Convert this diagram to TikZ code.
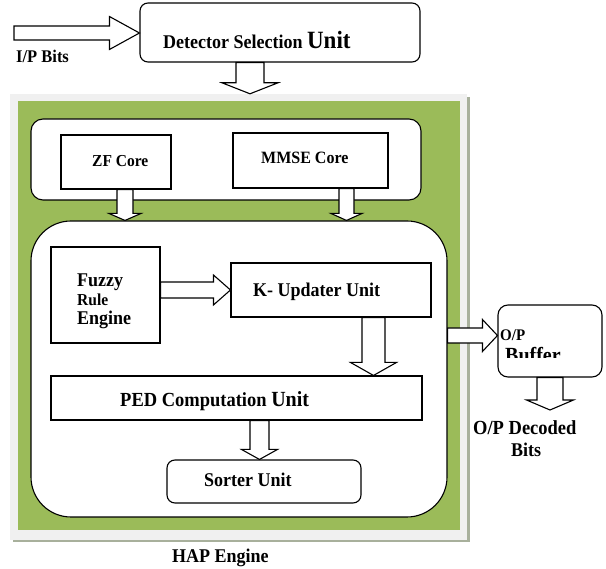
\documentclass[tikz,border=0pt]{standalone}
\usepackage{fontspec}
\setmainfont{Liberation Serif}
\usetikzlibrary{calc}
\definecolor{hapgreen}{HTML}{9BBB59}
\definecolor{framegray}{HTML}{F0F0F0}
\definecolor{shadowgray}{HTML}{A8B09C}
\newcommand\fsz[1]{\fontsize{#1}{#1}\selectfont}
\tikzset{
  box/.style={draw=black, line width=1.1pt, fill=white, inner sep=0pt},
  rbox/.style={box, rounded corners=#1},
  barrow/.style={draw=black, line width=1.1pt, fill=white, line join=miter},
  lbl/.style={anchor=base west, inner sep=0pt, font=\bfseries, yscale=1.08}
}
% vertical block arrow: from, to, xshift, shaft half, head half, head length
\newcommand\varr[6]{\draw[barrow] let \p1=([xshift=#3]#1), \p2=(#2) in
  (\x1-#4,\y1) -- (\x1-#4,\y2+#6) -- (\x1-#5,\y2+#6) -- (\x1,\y2) --
  (\x1+#5,\y2+#6) -- (\x1+#4,\y2+#6) -- (\x1+#4,\y1) -- cycle;}
% horizontal block arrow: from, to, yshift, shaft half, head half, head length
\newcommand\harr[6]{\draw[barrow] let \p1=([yshift=#3]#1), \p2=(#2) in
  (\x1,\y1-#4) -- (\x2-#6,\y1-#4) -- (\x2-#6,\y1-#5) -- (\x2,\y1) --
  (\x2-#6,\y1+#5) -- (\x2-#6,\y1+#4) -- (\x1,\y1+#4) -- cycle;}
\begin{document}
\begin{tikzpicture}[x=1pt,y=-1pt]
\useasboundingbox[fill=white] (0,0) rectangle (606,569);
% HAP frame
\fill[shadowgray] (13,97) rectangle (470,542);
\node[fill=framegray, inner sep=0pt, minimum width=457pt, minimum height=446pt] (frame) at (238.5,317) {};
\node[fill=hapgreen, inner sep=0pt, minimum width=442pt, minimum height=429pt] (green) at (239,315.5) {};
% boxes
\node[rbox=8pt, minimum width=280pt, minimum height=59pt] (dsu) at (280,32.5) {};
\node[rbox=12pt, minimum width=390pt, minimum height=81pt] (cores) at (226,159.5) {};
\node[box, minimum width=110pt, minimum height=54pt] (zf) at (116,162) {};
\node[box, minimum width=155pt, minimum height=55pt] (mmse) at (310.5,160.5) {};
\node[rbox=40pt, minimum width=416pt, minimum height=296pt] (big) at (239,369) {};
\node[box, minimum width=109pt, minimum height=96pt] (fuzzy) at (105.5,295) {};
\node[box, minimum width=200pt, minimum height=54pt] (kup) at (331,290) {};
\node[box, minimum width=371pt, minimum height=44pt] (ped) at (236.5,398) {};
\node[rbox=8pt, minimum width=194pt, minimum height=43pt] (sorter) at (264,481.5) {};
\node[rbox=10pt, minimum width=104pt, minimum height=72pt] (buf) at (550,341) {};
\coordinate (inp) at (14,33);
\coordinate (outp) at (550,410);
% arrows
\harr{inp}{dsu.west}{0pt}{7pt}{16.5pt}{30pt}
\varr{dsu.south}{frame.north}{-30pt}{14pt}{28pt}{11pt}
\varr{zf.south}{big.north}{9pt}{8pt}{16pt}{7pt}
\varr{mmse.south}{big.north}{36pt}{7.5pt}{15.5pt}{7pt}
\harr{fuzzy.east}{kup.west}{5pt}{8pt}{15pt}{17pt}
\varr{kup.south}{ped.north}{42.5pt}{11.5pt}{23pt}{13pt}
\varr{ped.south}{sorter.north}{23pt}{9.5pt}{18pt}{10pt}
\harr{big.east}{buf.west}{33.5pt}{7.5pt}{16pt}{15pt}
\varr{buf.south}{outp}{0pt}{13pt}{23.5pt}{10pt}
% texts
\node[lbl] (tdsu) at (163,49) {\fsz{18}Detector Selection \fsz{23}Unit};
\node[lbl] (tin) at (16,63) {\fsz{16.5}I/P Bits};
\node[lbl] (tzf) at (92,167) {\fsz{15.5}ZF Core};
\node[lbl] (tmmse) at (261,164) {\fsz{16}MMSE Core};
\node[lbl] (tfz1) at (77,287) {\fsz{18}Fuzzy};
\node[lbl] (tfz2) at (77,306) {\fsz{15.5}Rule};
\node[lbl] (tfz3) at (77,325) {\fsz{18}Engine};
\node[lbl] (tkup) at (253,297) {\fsz{18}K- Updater Unit};
\node[lbl] (tped) at (120,407) {\fsz{18.5}PED Computation \fsz{20}Unit};
\node[lbl] (tsort) at (204,487) {\fsz{18}Sorter Unit};
\node[lbl] (thap) at (172,563) {\fsz{18}HAP Engine};
\node[lbl] (tbuf1) at (500,341) {\fsz{15}O/P};
\begin{scope}
\clip (buf.north west) rectangle ($(buf.south east)+(0,-20)$);
\node[lbl] (tbuf2) at (505,363) {\fsz{20}Buffer};
\end{scope}
\node[lbl] (tout1) at (473,435) {\fsz{18.5}O/P Decoded};
\node[lbl] (tout2) at (511,457) {\fsz{18}Bits};
\end{tikzpicture}
\end{document}
